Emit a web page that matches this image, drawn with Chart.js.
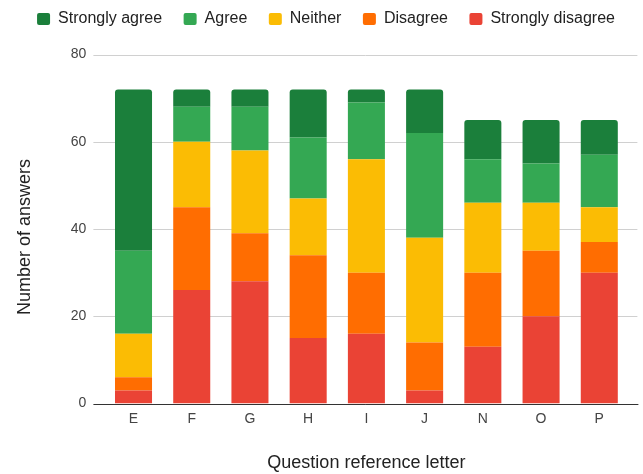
<!DOCTYPE html>
<html>
<head>
<meta charset="utf-8">
<script src="https://cdn.jsdelivr.net/npm/chart.js@4/dist/chart.umd.min.js"></script>
<style>
  html, body { margin: 0; padding: 0; background: #ffffff; }
  #wrap { width: 643px; height: 474px; }
</style>
</head>
<body>
<div id="wrap"><canvas id="chart" width="643" height="474"></canvas></div>
<script>
// Survey answers per question, stacked from "Strongly disagree" upward
const categories = ['E', 'F', 'G', 'H', 'I', 'J', 'N', 'O', 'P'];
const stronglyDisagree = [3, 26, 28, 15, 16, 3, 13, 20, 30];
const disagree = [3, 19, 11, 19, 14, 11, 17, 15, 7];
const neither = [10, 15, 19, 13, 26, 24, 16, 11, 8];
const agree = [19, 8, 10, 14, 13, 24, 10, 9, 12];
const stronglyAgree = [37, 4, 4, 11, 3, 10, 9, 10, 8];
const yTicks = [0, 20, 40, 60, 80];

const seriesNames = ['Strongly disagree', 'Disagree', 'Neither', 'Agree', 'Strongly agree'];
const seriesValues = [stronglyDisagree, disagree, neither, agree, stronglyAgree];
const seriesColors = ['#ea4335', '#ff6d01', '#fbbc04', '#34a853', '#1b7f3b'];

const FONT = '"Liberation Sans", Arial, sans-serif';

// Horizontal grid lines reach a little past the bar area on both sides
const gridPlugin = {
  id: 'sheetGrid',
  beforeDatasetsDraw(chart) {
    const { ctx, chartArea, scales } = chart;
    const y = scales.y;
    ctx.save();
    ctx.lineWidth = 1;
    yTicks.forEach(v => {
      const py = Math.round(y.getPixelForValue(v)) + 0.5;
      ctx.strokeStyle = v === 0 ? '#333333' : '#d0d0d0';
      ctx.beginPath();
      ctx.moveTo(chartArea.left - 11, py);
      ctx.lineTo(chartArea.right + (v === 0 ? 10 : 9), py);
      ctx.stroke();
    });
    ctx.restore();
  }
};

// Vertical axis title, centred on the full height of the canvas
const yTitlePlugin = {
  id: 'yTitle',
  afterDraw(chart) {
    const { ctx } = chart;
    ctx.save();
    ctx.translate(25, chart.height / 2);
    ctx.rotate(-Math.PI / 2);
    ctx.font = '18px ' + FONT;
    ctx.fillStyle = '#222222';
    ctx.textAlign = 'center';
    ctx.textBaseline = 'middle';
    ctx.fillText('Number of answers', 0, 0);
    ctx.restore();
  }
};

new Chart(document.getElementById('chart'), {
  type: 'bar',
  data: {
    labels: categories,
    datasets: seriesNames.map((name, i) => ({
      label: name,
      data: seriesValues[i],
      backgroundColor: seriesColors[i],
      borderColor: seriesColors[i],
      borderWidth: 0,
      borderRadius: 3,
      borderSkipped: 'start',
      categoryPercentage: 1,
      barPercentage: 0.636
    }))
  },
  options: {
    responsive: false,
    animation: false,
    events: [],
    layout: { padding: { top: -10.5, left: 9, right: 0, bottom: 0 } },
    plugins: {
      tooltip: { enabled: false },
      legend: {
        position: 'top',
        reverse: true,
        weight: 1000,
        labels: {
          font: { family: FONT, size: 16 },
          color: '#222222',
          boxWidth: 13,
          boxHeight: 12,
          padding: 21.5,
          useBorderRadius: true,
          borderRadius: 2
        }
      },
      title: {
        display: true,
        text: '',
        weight: 500,
        padding: 0,
        font: { size: 10, lineHeight: 1.75 }
      }
    },
    scales: {
      x: {
        stacked: true,
        grid: { display: false, drawTicks: false },
        border: { display: false },
        ticks: { font: { family: FONT, size: 14 }, color: '#444444', padding: 7 },
        title: {
          display: true,
          text: 'Question reference letter',
          font: { family: FONT, size: 18 },
          color: '#222222',
          padding: { top: 0, bottom: 0 }
        },
        afterFit(scale) { scale.height = 70.5; }
      },
      y: {
        stacked: true,
        min: 0,
        max: 80,
        grid: { display: false, drawTicks: false },
        border: { display: false },
        ticks: {
          stepSize: 20,
          font: { family: FONT, size: 14 },
          color: '#444444',
          padding: 18
        },
        afterFit(scale) { scale.width = 95.4; }
      },
      yPad: {
        position: 'right',
        display: true,
        grid: { display: false, drawTicks: false },
        border: { display: false },
        ticks: { display: false },
        afterFit(scale) { scale.width = 14.6; }
      }
    }
  },
  plugins: [gridPlugin, yTitlePlugin]
});
</script>
</body>
</html>
